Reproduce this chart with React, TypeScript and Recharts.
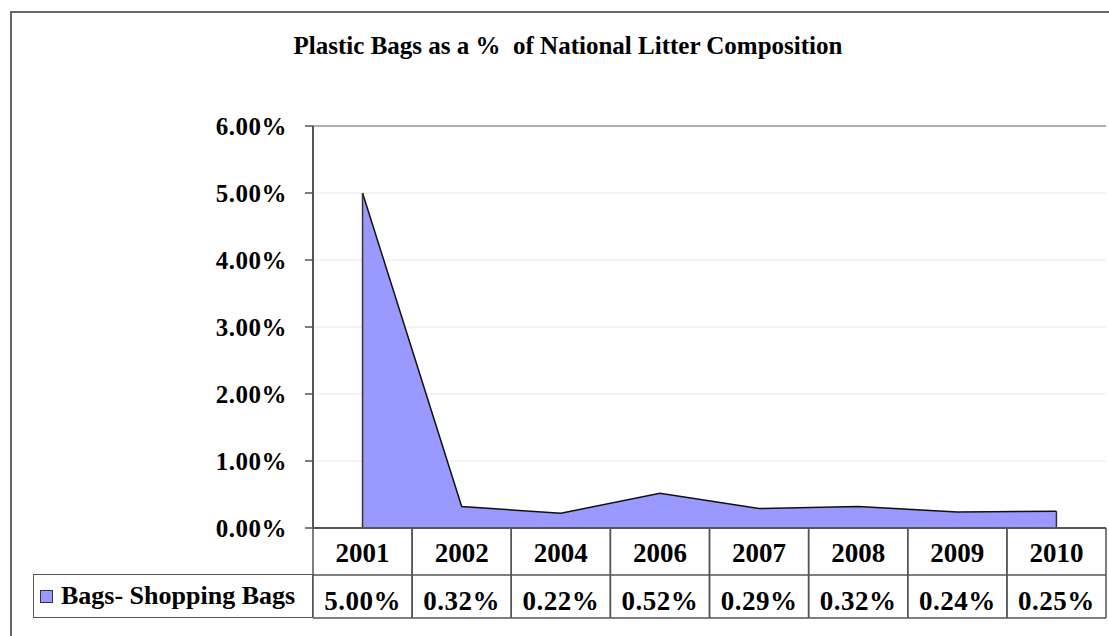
import { AreaChart, Area, XAxis, YAxis, CartesianGrid, ReferenceLine } from 'recharts'

const years = ['2001', '2002', '2004', '2006', '2007', '2008', '2009', '2010']
const shoppingBags = [5.0, 0.32, 0.22, 0.52, 0.29, 0.32, 0.24, 0.25]
const yTicks = [0, 1, 2, 3, 4, 5, 6]
const seriesName = 'Bags- Shopping Bags'
const title = 'Plastic Bags as a %  of National Litter Composition'

const data = years.map((year, i) => ({ year, bags: shoppingBags[i] }))

const FONT = '"Liberation Serif", "Times New Roman", serif'
const FILL = '#9999ff'
const LINE = '#555'
const CELL = 99.1

const pct = (v: number) => `${v.toFixed(2)}%`

function TableTick(props: any) {
  const { x, payload, index } = props
  const top = 528
  const mid = 575
  const bottom = 618
  const l = x - CELL / 2
  const r = x + CELL / 2
  return (
    <g>
      <line x1={l} y1={top} x2={l} y2={bottom} stroke={LINE} strokeWidth={1.5} />
      <line x1={r} y1={top} x2={r} y2={bottom} stroke={LINE} strokeWidth={1.5} />
      <line x1={l} y1={mid} x2={r} y2={mid} stroke={LINE} strokeWidth={1.5} />
      <line x1={l} y1={bottom} x2={r} y2={bottom} stroke={LINE} strokeWidth={1.5} />
      <text x={x} y={562} textAnchor="middle" fontFamily={FONT} fontWeight="bold" fontSize={27} fill="#000">
        {payload.value}
      </text>
      <text
        x={x}
        y={610}
        textAnchor="middle"
        fontFamily={FONT}
        fontWeight="bold"
        fontSize={27}
        letterSpacing={0.5}
        fill="#000"
      >
        {pct(shoppingBags[index])}
      </text>
    </g>
  )
}

export default function App() {
  const last = years.length - 1
  return (
    <div style={{ position: 'absolute', left: 0, top: 0, width: 1109, height: 636, overflow: 'hidden', background: '#fff' }}>
      <div
        style={{
          position: 'absolute',
          left: 10,
          top: 11,
          width: 1200,
          height: 700,
          border: '2px solid #666',
        }}
      />
      <div
        style={{
          position: 'absolute',
          left: 0,
          width: 1136,
          top: 32,
          textAlign: 'center',
          fontFamily: FONT,
          fontWeight: 'bold',
          fontSize: 25,
          whiteSpace: 'pre',
        }}
      >
        {title}
      </div>
      <div
        style={{
          position: 'absolute',
          left: 33,
          top: 574,
          width: 278,
          height: 42,
          border: `1.5px solid ${LINE}`,
          fontFamily: FONT,
          fontWeight: 'bold',
          fontSize: 26,
          display: 'flex',
          alignItems: 'center',
          whiteSpace: 'nowrap',
        }}
      >
        <span
          style={{
            display: 'inline-block',
            width: 11,
            height: 11,
            background: FILL,
            border: '1px solid #333',
            marginLeft: 6,
            marginRight: 8,
          }}
        />
        {seriesName}
      </div>
      <div style={{ position: 'absolute', left: 0, top: 0 }}>
        <AreaChart width={1109} height={636} data={data} margin={{ top: 126, right: 3, left: 213, bottom: 8 }}>
          <CartesianGrid vertical={false} stroke="#e8e8e8" />
          <XAxis
            dataKey="year"
            height={100}
            interval={0}
            padding={{ left: CELL / 2, right: CELL / 2 }}
            tickLine={false}
            axisLine={{ stroke: LINE, strokeWidth: 2 }}
            tick={<TableTick />}
          />
          <YAxis
            width={100}
            domain={[0, 6]}
            ticks={yTicks}
            tickFormatter={pct}
            tickSize={8}
            tickMargin={18}
            axisLine={{ stroke: LINE, strokeWidth: 2 }}
            tickLine={{ stroke: LINE, strokeWidth: 1.5 }}
            tick={{ fontFamily: FONT, fontWeight: 'bold', fontSize: 25, letterSpacing: 0.5, fill: '#000' }}
          />
          <YAxis
            yAxisId="frame"
            orientation="right"
            width={0}
            domain={[0, 6]}
            tick={false}
            tickLine={false}
            axisLine={{ stroke: '#999', strokeWidth: 1.5 }}
          />
          <ReferenceLine y={6} stroke="#999" strokeWidth={1.5} />
          <Area
            type="linear"
            dataKey="bags"
            fill={FILL}
            fillOpacity={1}
            stroke="#111"
            strokeWidth={1.5}
            isAnimationActive={false}
          />
          <ReferenceLine
            segment={[
              { x: years[0], y: 0 },
              { x: years[0], y: shoppingBags[0] },
            ]}
            stroke="#333"
            strokeWidth={1.5}
          />
          <ReferenceLine
            segment={[
              { x: years[last], y: 0 },
              { x: years[last], y: shoppingBags[last] },
            ]}
            stroke="#333"
            strokeWidth={1.5}
          />
        </AreaChart>
      </div>
    </div>
  )
}
